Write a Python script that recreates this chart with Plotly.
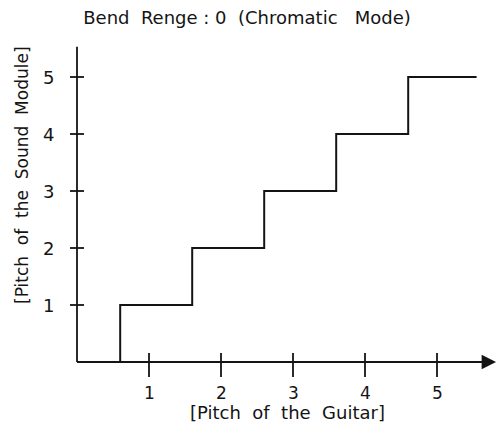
import plotly.graph_objects as go

# ---- data ----
title_text = "Bend\u00a0 Renge\u00a0:\u00a00\u00a0 (Chromatic\u00a0\u00a0 Mode)"
x_title = "[Pitch\u00a0 of\u00a0 the\u00a0 Guitar]"
y_title = "[Pitch\u00a0 of\u00a0 the\u00a0 Sound\u00a0 Module]"
x_ticks = [1, 2, 3, 4, 5]
x_tick_labels = ["1", "2", "3", "4", "5"]
y_ticks = [1, 2, 3, 4, 5]
y_tick_labels = ["1", "2", "3", "4", "5"]
guitar_pitch = [0, 0.6, 1.6, 2.6, 3.6, 4.6, 5.55]
module_pitch = [0, 1, 2, 3, 4, 5, 5]
x_axis_end = 5.82
y_axis_end = 5.53

# ---- styling / geometry ----
W, H = 497, 427
X0PX, XPX = 77, 72.0      # pixel of x=0, pixels per unit
Y0PX, YPX = 362, 57.0     # pixel of y=0, pixels per unit
INK = "#141414"
FONT = "DejaVu Sans"
FS = 18

x_range = [-X0PX / XPX, (W - X0PX) / XPX]
y_range = [-(H - Y0PX) / YPX, Y0PX / YPX]

fig = go.Figure()

# step line
fig.add_trace(go.Scatter(
    x=guitar_pitch, y=module_pitch, mode="lines",
    line=dict(color=INK, width=2, shape="hv"), hoverinfo="skip", showlegend=False))

# y axis line
fig.add_trace(go.Scatter(
    x=[0, 0], y=[0, y_axis_end], mode="lines",
    line=dict(color=INK, width=1.8), hoverinfo="skip", showlegend=False))

# x tick marks (cross the axis)
up, down = 9 / YPX, 15 / YPX
tx, ty = [], []
for v in x_ticks:
    tx += [v, v, None]
    ty += [up, -down, None]
fig.add_trace(go.Scatter(x=tx, y=ty, mode="lines",
                         line=dict(color=INK, width=1.8), hoverinfo="skip", showlegend=False))

# y tick marks
half = 7 / XPX
sx, sy = [], []
for v in y_ticks:
    sx += [-half, half, None]
    sy += [v, v, None]
fig.add_trace(go.Scatter(x=sx, y=sy, mode="lines",
                         line=dict(color=INK, width=1.8), hoverinfo="skip", showlegend=False))

annotations = []
# x axis with arrow
annotations.append(dict(x=x_axis_end, y=0, ax=0, ay=0, xref="x", yref="y", axref="x", ayref="y",
                        text="", showarrow=True, arrowhead=2, arrowsize=1.6, arrowwidth=1.8,
                        arrowcolor=INK))
for v, t in zip(x_ticks, x_tick_labels):
    annotations.append(dict(x=v, y=0, xref="x", yref="y", text=t, showarrow=False,
                            yshift=-31, font=dict(family=FONT, size=17, color=INK)))
for v, t in zip(y_ticks, y_tick_labels):
    annotations.append(dict(x=0, y=v, xref="x", yref="y", text=t, showarrow=False,
                            xanchor="right", xshift=-21, font=dict(family=FONT, size=FS, color=INK)))
annotations.append(dict(x=287 / W, y=1 - 412 / H, xref="paper", yref="paper", text=x_title,
                        showarrow=False, xanchor="center", yanchor="middle",
                        font=dict(family=FONT, size=FS, color=INK)))
annotations.append(dict(x=22 / W, y=1 - 175 / H, xref="paper", yref="paper", text=y_title,
                        showarrow=False, textangle=-90, xanchor="center", yanchor="middle",
                        font=dict(family=FONT, size=17, color=INK)))

fig.update_layout(
    width=W, height=H, autosize=False,
    margin=dict(l=0, r=0, t=0, b=0, pad=0),
    paper_bgcolor="white", plot_bgcolor="white",
    title=dict(text=title_text, x=247 / W, y=1 - 18 / H, xanchor="center", yanchor="middle",
               xref="paper", yref="paper", font=dict(family=FONT, size=FS, color=INK)),
    xaxis=dict(range=x_range, visible=False, fixedrange=True),
    yaxis=dict(range=y_range, visible=False, fixedrange=True),
    annotations=annotations,
    showlegend=False,
)

fig.write_html("out.html", config={"displayModeBar": False},
               post_script="document.body.style.margin='0';document.body.style.overflow='hidden';")
